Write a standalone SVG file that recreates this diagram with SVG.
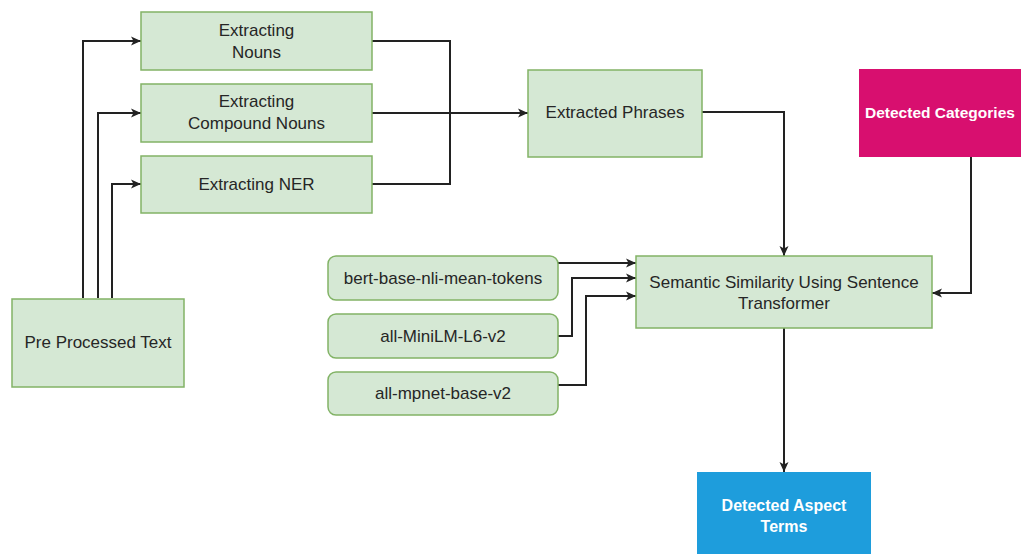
<svg xmlns="http://www.w3.org/2000/svg" width="1021" height="554" viewBox="0 0 1021 554">
  <style>
    .g { fill: #d5e8d4; stroke: #82b366; stroke-width: 1.5; }
    .t { font-family: "Liberation Sans", Arial, sans-serif; font-size: 17px; fill: #262626; text-anchor: middle; }
    .w { font-family: "Liberation Sans", Arial, sans-serif; font-size: 16px; font-weight: bold; fill: #ffffff; text-anchor: middle; }
    .c { fill: none; stroke: #222222; stroke-width: 2; }
  </style>
  <defs>
    <marker id="arr" markerUnits="userSpaceOnUse" markerWidth="12" markerHeight="10" refX="11" refY="5" orient="auto">
      <path d="M1,0.5 L11,5 L1,9.5 L3.5,5 z" fill="#222222"/>
    </marker>
  </defs>
  <rect width="1021" height="554" fill="#ffffff"/>

  <g id="connectors">
    <path class="c" d="M83,298 V41 H141" marker-end="url(#arr)"/>
    <path class="c" d="M98,298 V113 H141" marker-end="url(#arr)"/>
    <path class="c" d="M112,298 V184 H141" marker-end="url(#arr)"/>
    <path class="c" d="M372,41 H450 V184 H372"/>
    <path class="c" d="M372,113 H528" marker-end="url(#arr)"/>
    <path class="c" d="M702,112 H784 V256" marker-end="url(#arr)"/>
    <path class="c" d="M971,157 V293 H932" marker-end="url(#arr)"/>
    <path class="c" d="M558,263 H636" marker-end="url(#arr)"/>
    <path class="c" d="M558,336 H572 V278 H636" marker-end="url(#arr)"/>
    <path class="c" d="M558,385 H586 V296 H636" marker-end="url(#arr)"/>
    <path class="c" d="M784,328 V472" marker-end="url(#arr)"/>
  </g>

  <g id="extracting-nouns">
    <rect class="g" x="141" y="12" width="231" height="58"/>
    <text class="t" x="256.5" y="36">Extracting</text>
    <text class="t" x="256.5" y="58">Nouns</text>
  </g>
  <g id="extracting-compound-nouns">
    <rect class="g" x="141" y="84" width="231" height="58"/>
    <text class="t" x="256.5" y="107">Extracting</text>
    <text class="t" x="256.5" y="129">Compound Nouns</text>
  </g>
  <g id="extracting-ner">
    <rect class="g" x="141" y="156" width="231" height="57"/>
    <text class="t" x="256.5" y="190">Extracting NER</text>
  </g>
  <g id="pre-processed-text">
    <rect class="g" x="12" y="299" width="172" height="88"/>
    <text class="t" x="98" y="348">Pre Processed Text</text>
  </g>
  <g id="extracted-phrases">
    <rect class="g" x="528" y="70" width="174" height="87"/>
    <text class="t" x="615" y="118">Extracted Phrases</text>
  </g>
  <g id="detected-categories">
    <rect x="859" y="69" width="180" height="88" fill="#d80f6f"/>
    <text class="w" x="865" y="118" style="text-anchor:start;font-size:15.5px">Detected Categories</text>
  </g>
  <g id="semantic-similarity">
    <rect class="g" x="636" y="256" width="296" height="72"/>
    <text class="t" x="784" y="288">Semantic Similarity Using Sentence</text>
    <text class="t" x="784" y="309">Transformer</text>
  </g>
  <g id="bert-base-nli-mean-tokens">
    <rect class="g" x="328" y="256" width="230" height="44" rx="8"/>
    <text class="t" x="443" y="284">bert-base-nli-mean-tokens</text>
  </g>
  <g id="all-minilm-l6-v2">
    <rect class="g" x="328" y="314" width="230" height="44" rx="8"/>
    <text class="t" x="443" y="342">all-MiniLM-L6-v2</text>
  </g>
  <g id="all-mpnet-base-v2">
    <rect class="g" x="328" y="372" width="230" height="43" rx="8"/>
    <text class="t" x="443" y="399">all-mpnet-base-v2</text>
  </g>
  <g id="detected-aspect-terms">
    <rect x="697" y="472" width="174" height="90" fill="#1e9ddc"/>
    <text class="w" x="784" y="511">Detected Aspect</text>
    <text class="w" x="784" y="532">Terms</text>
  </g>
</svg>
